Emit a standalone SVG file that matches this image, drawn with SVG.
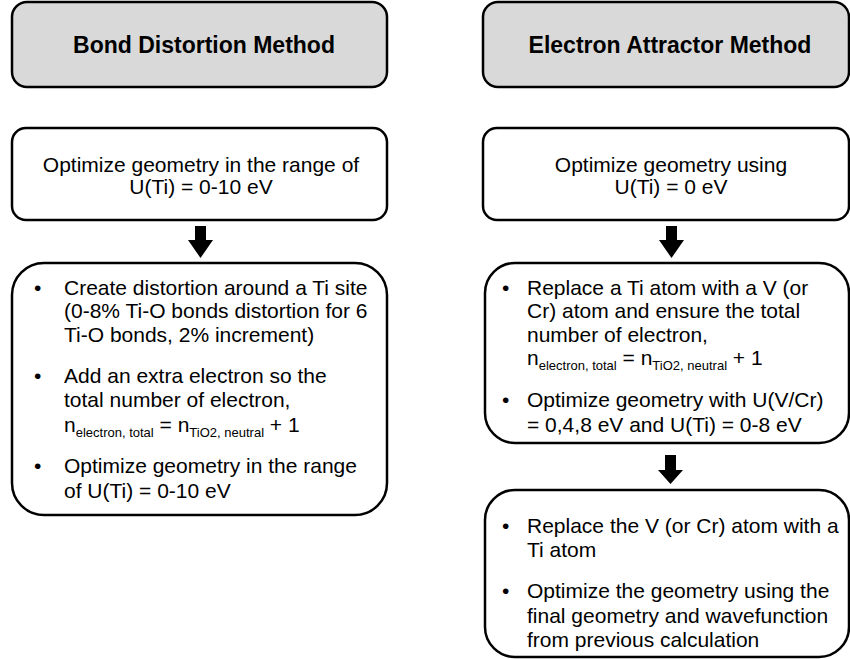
<svg xmlns="http://www.w3.org/2000/svg" width="850" height="659" viewBox="0 0 850 659">
<style>
.hdr{fill:#d9d9d9;stroke:#000;stroke-width:2.5}
.box{fill:#fff;stroke:#000;stroke-width:2.5}
.t{font-family:"Liberation Sans",Arial,sans-serif;font-size:21px;fill:#000}
.h{font-family:"Liberation Sans",Arial,sans-serif;font-size:23px;font-weight:bold;fill:#000}
.c{text-anchor:middle}
.s{font-size:13px}
.arr{fill:#000}
</style>
<rect width="850" height="659" fill="#fff"/>
<g id="hdr-left">
<rect class="hdr" x="12" y="2" width="375" height="85" rx="15"/>
<text class="h c" x="204" y="53">Bond Distortion Method</text>
</g>
<g id="hdr-right">
<rect class="hdr" x="483" y="2" width="366" height="85" rx="15"/>
<text class="h c" x="670" y="53">Electron Attractor Method</text>
</g>
<g id="left-1">
<rect class="box" x="12" y="128" width="375" height="92" rx="14"/>
<text class="t c" x="201" y="172">Optimize geometry in the range of</text>
<text class="t c" x="201" y="194">U(Ti) = 0-10 eV</text>
</g>
<g id="left-2">
<rect class="box" x="12" y="263" width="375" height="252" rx="32"/>
<text class="t" x="34" y="295">•</text>
<text class="t" x="64" y="295">Create distortion around a Ti site</text>
<text class="t" x="64" y="318">(0-8% Ti-O bonds distortion for 6</text>
<text class="t" x="64" y="342">Ti-O bonds, 2% increment)</text>
<text class="t" x="34" y="383">•</text>
<text class="t" x="64" y="383">Add an extra electron so the</text>
<text class="t" x="64" y="407">total number of electron,</text>
<text class="t" x="64" y="432">n<tspan class="s" dy="5">electron, total</tspan><tspan dy="-5"> = n</tspan><tspan class="s" dy="5">TiO2, neutral</tspan><tspan dy="-5"> + 1</tspan></text>
<text class="t" x="34" y="473">•</text>
<text class="t" x="64" y="473">Optimize geometry in the range</text>
<text class="t" x="64" y="498">of U(Ti) = 0-10 eV</text>
</g>
<g id="right-1">
<rect class="box" x="483" y="128" width="366" height="92" rx="14"/>
<text class="t c" x="671" y="172">Optimize geometry using</text>
<text class="t c" x="671" y="194">U(Ti) = 0 eV</text>
</g>
<g id="right-2">
<rect class="box" x="485" y="263" width="364" height="180" rx="30"/>
<text class="t" x="502" y="295">•</text>
<text class="t" x="527" y="295">Replace a Ti atom with a V (or</text>
<text class="t" x="527" y="318">Cr) atom and ensure the total</text>
<text class="t" x="527" y="342">number of electron,</text>
<text class="t" x="527" y="365">n<tspan class="s" dy="5">electron, total</tspan><tspan dy="-5"> = n</tspan><tspan class="s" dy="5">TiO2, neutral</tspan><tspan dy="-5"> + 1</tspan></text>
<text class="t" x="502" y="407">•</text>
<text class="t" x="527" y="407">Optimize geometry with U(V/Cr)</text>
<text class="t" x="527" y="432">= 0,4,8 eV and U(Ti) = 0-8 eV</text>
</g>
<g id="right-3">
<rect class="box" x="485" y="490" width="364" height="167" rx="30"/>
<text class="t" x="502" y="533">•</text>
<text class="t" x="527" y="533">Replace the V (or Cr) atom with a</text>
<text class="t" x="527" y="557">Ti atom</text>
<text class="t" x="502" y="598">•</text>
<text class="t" x="527" y="598">Optimize the geometry using the</text>
<text class="t" x="527" y="623">final geometry and wavefunction</text>
<text class="t" x="527" y="647">from previous calculation</text>
</g>
<g id="connectors">
<polygon class="arr" points="195,226 206,226 206,240 213,240 200.5,258 188,240 195,240"/>
<polygon class="arr" points="666,226 677,226 677,240 684,240 671.5,258 659,240 666,240"/>
<polygon class="arr" points="665,455 676,455 676,470 683,470 670.5,484 658,470 665,470"/>
</g>
</svg>
